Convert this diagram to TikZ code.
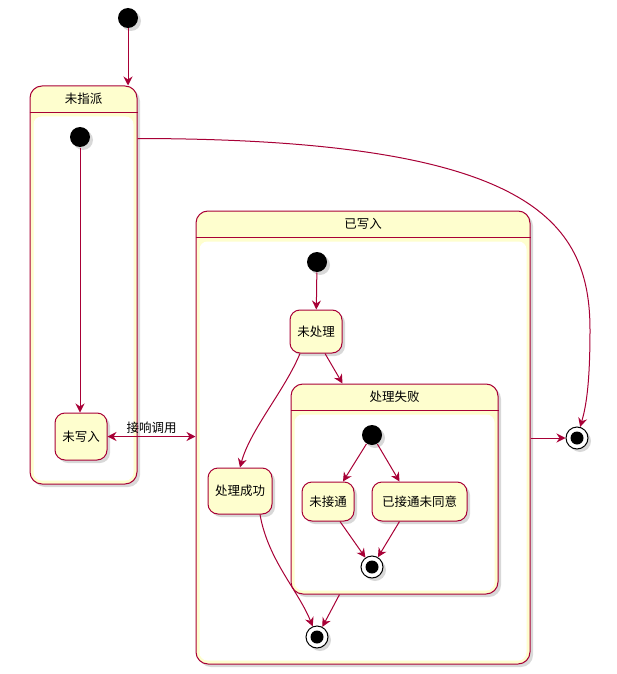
\documentclass[tikz,border=0pt]{standalone}
\usepackage{fontspec}
\newfontfamily\cjk{Noto Sans CJK SC}
\usepackage{tikz}
\usetikzlibrary{shadows, positioning, arrows.meta, calc}
\definecolor{umlred}{HTML}{A80036}
\definecolor{umlyellow}{HTML}{FEFECE}

\begin{document}
\begin{tikzpicture}[
    x=1pt, y=-1pt,
    line width=1pt,
    font=\cjk\fontsize{12.5}{15}\selectfont,
    state/.style={draw=umlred, fill=umlyellow, rounded corners=10pt, align=center, inner sep=2pt, drop shadow={opacity=0.3, shadow xshift=3pt, shadow yshift=-3pt}},
    composite/.style={state, rounded corners=12pt},
    initial/.style={circle, fill=black, minimum size=20pt, inner sep=0pt, drop shadow={opacity=0.3, shadow xshift=3pt, shadow yshift=-3pt}},
    final/.style={circle, draw=black, fill=white, minimum size=22pt, inner sep=0pt, path picture={\fill[black] (path picture bounding box.center) circle (6.5pt);}, drop shadow={opacity=0.3, shadow xshift=3pt, shadow yshift=-3pt}},
    trans/.style={draw=umlred, -{Stealth[length=9pt, width=9pt, inset=3pt]}}
]
    \useasboundingbox (0,0) rectangle (616,674);

    % ================= COMPOSITE STATES =================
    \node[composite, minimum width=107pt, minimum height=398pt] (UNASSIGNED) at (83.5,285) {};
    \fill[white, rounded corners=8pt] ($(UNASSIGNED.north west)+(4,31)$) rectangle ($(UNASSIGNED.south east)+(-4,-4)$);
    \draw[umlred] ($(UNASSIGNED.north west)+(0,27)$) -- ($(UNASSIGNED.north east)+(0,27)$);
    \node (UNASSIGNED-T) at ($(UNASSIGNED.north)+(0,13.5)$) {未指派};

    \node[composite, minimum width=334pt, minimum height=453pt] (WRITTEN) at (363,437.5) {};
    \fill[white, rounded corners=8pt] ($(WRITTEN.north west)+(4,31)$) rectangle ($(WRITTEN.south east)+(-4,-4)$);
    \draw[umlred] ($(WRITTEN.north west)+(0,27)$) -- ($(WRITTEN.north east)+(0,27)$);
    \node (WRITTEN-T) at ($(WRITTEN.north)+(0,13.5)$) {已写入};

    \node[composite, minimum width=207pt, minimum height=210pt] (FAILED) at (394.5,489) {};
    \fill[white, rounded corners=8pt] ($(FAILED.north west)+(4,31)$) rectangle ($(FAILED.south east)+(-4,-4)$);
    \draw[umlred] ($(FAILED.north west)+(0,27)$) -- ($(FAILED.north east)+(0,27)$);
    \node (FAILED-T) at ($(FAILED.north)+(0,13.5)$) {处理失败};

    % ================= SIMPLE STATES =================
    \node[state, minimum width=52pt, minimum height=47pt] (WRITE) at (81,436.5) {未写入};
    \node[state, minimum width=52pt, minimum height=43pt] (UNPROC) at (316,331.5) {未处理};
    \node[state, minimum width=64pt, minimum height=46pt] (SUCCESS) at (240,491) {处理成功};
    \node[state, minimum width=52pt, minimum height=39pt] (NOCONN) at (328,501.5) {未接通};
    \node[state, minimum width=95pt, minimum height=39pt] (REFUSE) at (419.5,501.5) {已接通未同意};

    % ================= START AND END =================
    \node[initial] (INIT0) at (128,18) {};
    \node[initial] (INIT1) at (80,137) {};
    \node[initial] (INIT2) at (317,262) {};
    \node[initial] (INIT3) at (372,435) {};
    \node[final] (END0) at (577,438) {};
    \node[final] (END2) at (317,637) {};
    \node[final] (END3) at (372,567) {};

    % ================= TRANSITIONS =================
    \draw[trans] (INIT0) -- (INIT0 |- UNASSIGNED.north);
    \draw[trans] (INIT1) -- (INIT1 |- WRITE.north);
    \draw[trans] ($(UNASSIGNED.north east)+(0,53)$) .. controls (530,139) and (590,220) .. (590,330)
        .. controls (590,390) and (585,410) .. (END0);
    \draw[draw=umlred, {Stealth[length=9pt, width=9pt, inset=3pt]}-{Stealth[length=9pt, width=9pt, inset=3pt]}]
        (WRITE.east) -- (WRITTEN.west |- WRITE.east) node[midway, above, yshift=-1pt] {接响调用};
    \draw[trans] (WRITTEN.east |- END0) -- (END0);

    \draw[trans] (INIT2) -- (UNPROC);
    \draw[trans] ($(UNPROC.south)+(9,0)$) -- ($(FAILED.north west)+(52,0)$);
    \draw[trans] ($(UNPROC.south)+(-16,0)$) .. controls (285,390) and (250,430) .. (SUCCESS.north);
    \draw[trans] ($(SUCCESS.south)+(20,0)$) .. controls (268,560) and (298,590) .. (END2);
    \draw[trans] ($(FAILED.south west)+(49,0)$) -- (END2);

    \draw[trans] (INIT3) -- ($(NOCONN.north)+(15,0)$);
    \draw[trans] (INIT3) -- ($(REFUSE.north west)+(28,0)$);
    \draw[trans] ($(NOCONN.south)+(12,0)$) -- (END3);
    \draw[trans] ($(REFUSE.south west)+(28,0)$) -- (END3);

\end{tikzpicture}
\end{document}
